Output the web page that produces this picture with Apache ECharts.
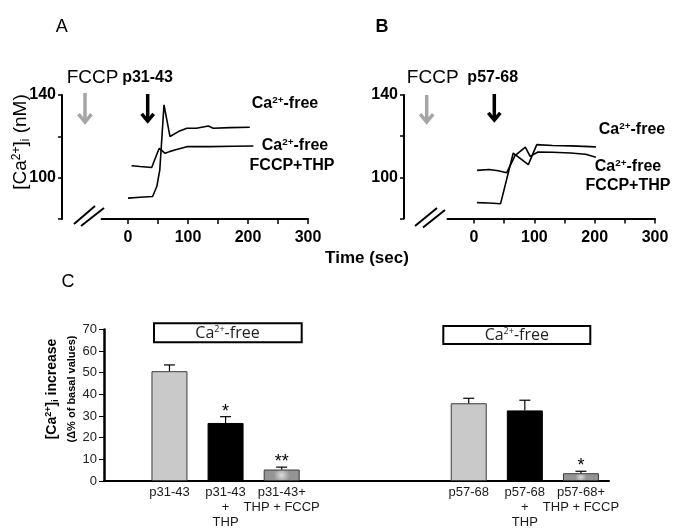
<!DOCTYPE html>
<html><head><meta charset="utf-8">
<script src="https://cdn.jsdelivr.net/npm/echarts@6/dist/echarts.min.js"></script>
<style>html,body{margin:0;padding:0;background:#fff}#c{width:676px;height:530px}</style>
</head><body><div id="c"></div>
<script>
// ---------------- DATA ----------------
// Panel A (p31-43): time (s) and [Ca2+]i (nM)
const timeA_free = [0, 20, 41, 48, 53, 60, 70, 84, 98, 114, 134, 142, 170, 203];
const caA_free   = [90.1, 90.5, 90.9, 95.7, 103.8, 135.2, 119.9, 122.3, 123.9, 123.9, 125.0, 123.9, 124.2, 124.4];
const timeA_thp  = [6, 20, 39.5, 52, 62, 69, 78, 98, 137, 175, 209];
const caA_thp    = [105.8, 105.4, 104.9, 114.2, 111.8, 112.6, 113.4, 115.0, 115.0, 115.2, 115.3];
// Panel B (p57-68)
const timeB_free = [5, 25, 44, 65, 90, 104, 130, 160, 202];
const caB_free   = [87.7, 87.5, 87.2, 111.8, 106.2, 115.9, 115.5, 115.3, 114.8];
const timeB_thp  = [5, 25, 40, 54, 68, 85, 93, 106, 130, 160, 185, 202];
const caB_thp    = [103.4, 103.8, 103.2, 102.2, 110.5, 114.7, 110.2, 112.3, 112.2, 111.8, 111.2, 109.8];
// Axis ticks for A/B
const timeTicks = [0, 50, 100, 150, 200, 250, 300];
const timeTickLabels = [0, 100, 200, 300];
const caTickLabels = [100, 140];
// Panel C bars
const barLabels = ['p31-43', 'p31-43\n+\nTHP', 'p31-43+\nTHP + FCCP', 'p57-68', 'p57-68\n+\nTHP', 'p57-68+\nTHP + FCCP'];
const barMeans  = [50.7, 26.8, 5.3, 35.9, 32.6, 3.6];
const barSEM    = [2.9, 2.9, 1.1, 2.3, 4.7, 0.9];
const barSig    = ['', '*', '**', '', '', '*'];

// ---------------- LAYOUT / STYLE ----------------
const FONT = '"Liberation Sans", Arial, Helvetica, sans-serif';
const NARROW = '"Liberation Sans Narrow", "Arial Narrow", "Liberation Sans", sans-serif';
const SLOTS = 27, SLOT_OF = [3, 6, 9, 19, 22, 25];
const cats = Array(SLOTS).fill('');
SLOT_OF.forEach((s, i) => cats[s] = barLabels[i]);
const gradFill = {type: 'radial', x: 0.5, y: 0.5, r: 0.7,
  colorStops: [{offset: 0, color: '#dcdcdc'}, {offset: 1, color: '#949494'}]};
const barStyles = [
  {color: '#c9c9c9', borderColor: '#3a3a3a', borderWidth: 1},
  {color: '#000000', borderColor: '#000', borderWidth: 1},
  {color: gradFill, borderColor: '#3a3a3a', borderWidth: 1}
];
const barData = Array(SLOTS).fill('-');
SLOT_OF.forEach((s, i) => barData[s] = {value: barMeans[i], itemStyle: barStyles[i % 3]});
const errData = SLOT_OF.map((s, i) => [s, barMeans[i], barSEM[i]]);

const zip = (a, b) => a.map((v, i) => [v, b[i]]);

function timeAxis(gi) {
  return {gridIndex: gi, type: 'value', min: -44, max: 300,
    axisLine: {show: true, onZero: false, lineStyle: {color: '#000', width: 2}},
    axisTick: {show: true, customValues: timeTicks, length: 5, lineStyle: {color: '#000', width: 1.5}},
    axisLabel: {customValues: timeTickLabels, fontFamily: NARROW, fontWeight: 'bold', fontSize: 16, color: '#000', margin: 11},
    splitLine: {show: false}};
}
function caAxis(gi, off) {
  return {gridIndex: gi, type: 'value', min: 80, max: 140, interval: 20, offset: off,
    axisLine: {show: true, onZero: false, lineStyle: {color: '#000', width: 2}},
    axisTick: {show: true, length: 4, lineStyle: {color: '#000', width: 1.5}},
    axisLabel: {formatter: v => caTickLabels.includes(v) ? String(v) : '', fontFamily: NARROW, fontWeight: 'bold', fontSize: 16, color: '#000', margin: 6},
    splitLine: {show: false}};
}
function trace(gi, t, v) {
  return {type: 'line', xAxisIndex: gi, yAxisIndex: gi, data: zip(t, v), showSymbol: false, symbol: 'none',
    lineStyle: {color: '#000', width: 1.6}, silent: true};
}
function txt(x, y, text, size, weight, extra) {
  return Object.assign({type: 'text', x: x, y: y, silent: true,
    style: {text: text, fontSize: size, fontWeight: weight || 'normal', fontFamily: FONT, fill: '#000', align: 'center', verticalAlign: 'middle'}}, extra || {});
}
function caFree(x, y, size) {
  return {type: 'text', x: x, y: y, silent: true, style: {
    text: '{n|Ca}{s|2+}{n|-free}', align: 'center', verticalAlign: 'middle',
    rich: {n: {fontSize: size, fontWeight: 'bold', fontFamily: FONT, lineHeight: size + 2, fill: '#000'},
           s: {fontSize: size * 0.62, fontWeight: 'bold', fontFamily: FONT, lineHeight: size * 0.62, verticalAlign: 'top', fill: '#000'}}}};
}
function arrow(x, y1, y2, color, hw) {
  return {type: 'group', silent: true, children: [
    {type: 'line', shape: {x1: x, y1: y1, x2: x, y2: y2 - 2}, style: {stroke: color, lineWidth: 3.5}},
    {type: 'polyline', shape: {points: [[x - hw, y2 - hw * 1.2], [x, y2], [x + hw, y2 - hw * 1.2]]},
      style: {stroke: color, lineWidth: 3.5, fill: null, lineJoin: 'miter'}}]};
}
function seg(x1, y1, x2, y2, w) {
  return {type: 'line', silent: true, shape: {x1, y1, x2, y2}, style: {stroke: '#000', lineWidth: w || 2}};
}
function box(x, y, w, h, tx, ty) {
  return [{type: 'rect', silent: true, shape: {x: x, y: y, width: w, height: h}, style: {fill: '#fff', stroke: '#000', lineWidth: 2}},
    {type: 'text', x: tx, y: ty, silent: true, style: {text: '{n|Ca}{s|2+}{n|-free}', align: 'center', verticalAlign: 'middle',
      rich: {n: {fontSize: 16, fontFamily: '"Open Sans", sans-serif', lineHeight: 16, fill: '#222'},
             s: {fontSize: 9, fontFamily: '"Open Sans", sans-serif', lineHeight: 10, verticalAlign: 'top', fill: '#222'}}}}];
}

const option = {
  animation: false,
  backgroundColor: '#fff',
  grid: [
    {left: 101.6, top: 95, width: 206.4, height: 124},
    {left: 447.5, top: 95, width: 207.5, height: 123.5},
    {left: 104, top: 329.4, width: 505, height: 153.6}
  ],
  xAxis: [timeAxis(0), timeAxis(1),
    {gridIndex: 2, type: 'category', data: cats,
     axisLine: {show: true, onZero: false, lineStyle: {color: '#000', width: 2}}, axisTick: {show: false},
     axisLabel: {interval: 0, fontSize: 13, lineHeight: 15, margin: 4, color: '#1a1a1a', fontFamily: FONT}}],
  yAxis: [caAxis(0, 39.6), caAxis(1, 43.5),
    {gridIndex: 2, type: 'value', min: 0, max: 70, interval: 10,
     axisLine: {show: true, onZero: false, lineStyle: {color: '#000', width: 2.5}},
     axisTick: {show: true, length: 5, lineStyle: {color: '#000', width: 1}},
     axisLabel: {fontSize: 13, color: '#222', margin: 7, fontFamily: FONT}, splitLine: {show: false}}],
  series: [
    trace(0, timeA_free, caA_free), trace(0, timeA_thp, caA_thp),
    trace(1, timeB_free, caB_free), trace(1, timeB_thp, caB_thp),
    {type: 'bar', xAxisIndex: 2, yAxisIndex: 2, data: barData, barWidth: 36, silent: true},
    {type: 'custom', xAxisIndex: 2, yAxisIndex: 2, data: errData, encode: {x: 0, y: 1}, silent: true, z: 5,
     renderItem: function (params, api) {
       const base = api.coord([api.value(0), api.value(1)]);
       const top = api.coord([api.value(0), api.value(1) + api.value(2)]);
       const ch = [
         {type: 'line', shape: {x1: base[0], y1: base[1], x2: top[0], y2: top[1]}, style: {stroke: '#000', lineWidth: 1.2}},
         {type: 'line', shape: {x1: top[0] - 5.5, y1: top[1], x2: top[0] + 5.5, y2: top[1]}, style: {stroke: '#000', lineWidth: 1.2}}];
       const sg = barSig[params.dataIndex];
       if (sg) ch.push({type: 'text', x: top[0], y: top[1] - 5, style: {text: sg, fontSize: 18, fontFamily: FONT, fill: '#000', align: 'center', verticalAlign: 'middle'}});
       return {type: 'group', children: ch};
     }}
  ],
  graphic: [
    txt(61.7, 27.5, 'A', 18),
    txt(382, 27, 'B', 18, 'bold'),
    txt(68, 282, 'C', 18),
    txt(92.5, 78, 'FCCP', 19),
    txt(147.5, 78, 'p31-43', 16, 'bold'),
    txt(432.7, 78, 'FCCP', 19),
    txt(492.7, 78, 'p57-68', 16, 'bold'),
    arrow(85, 93, 122, '#a6a6a6', 6.5),
    arrow(147.7, 94, 121, '#000', 6),
    arrow(426.7, 95, 122, '#a6a6a6', 6.5),
    arrow(494.3, 94, 120, '#000', 6),
    caFree(285, 104, 16), caFree(295, 146, 16), txt(292, 166, 'FCCP+THP', 16, 'bold'),
    caFree(632, 130, 16), caFree(628, 167, 16), txt(628, 186, 'FCCP+THP', 16, 'bold'),
    seg(74, 224, 95, 206), seg(81, 226, 104, 208),
    seg(415, 226, 437, 208), seg(423, 227.5, 445, 210),
    {type: 'text', x: 21, y: 142, rotation: Math.PI / 2, silent: true, style: {
      text: '{n|[Ca}{s|2+}{n|]}{b|i}{n| (nM)}', align: 'center', verticalAlign: 'middle',
      rich: {n: {fontSize: 19, fontFamily: FONT, lineHeight: 21, fill: '#000'},
             s: {fontSize: 12, fontFamily: FONT, lineHeight: 12, verticalAlign: 'top', fill: '#000'},
             b: {fontSize: 12, fontFamily: FONT, lineHeight: 12, verticalAlign: 'bottom', fill: '#000'}}}},
    txt(367, 258, 'Time (sec)', 17, 'bold'),
    ...box(154, 323.3, 147.7, 19, 227.5, 333),
    ...box(443.3, 326, 147, 18, 516.8, 335),
    {type: 'text', x: 52.5, y: 389, rotation: Math.PI / 2, silent: true, style: {
      text: '{n|[Ca}{s|2+}{n|]}{b|i}{n| increase}', align: 'center', verticalAlign: 'middle',
      rich: {n: {fontSize: 14, fontWeight: 'bold', fontFamily: FONT, lineHeight: 16, fill: '#000'},
             s: {fontSize: 9, fontWeight: 'bold', fontFamily: FONT, lineHeight: 9, verticalAlign: 'top', fill: '#000'},
             b: {fontSize: 9, fontWeight: 'bold', fontFamily: FONT, lineHeight: 9, verticalAlign: 'bottom', fill: '#000'}}}},
    txt(71.7, 389, '(\u0394% of basal values)', 11, 'bold', {rotation: Math.PI / 2})
  ]
};
const chart = echarts.init(document.getElementById('c'), null, {renderer: 'canvas'});
chart.setOption(option);
</script></body></html>
